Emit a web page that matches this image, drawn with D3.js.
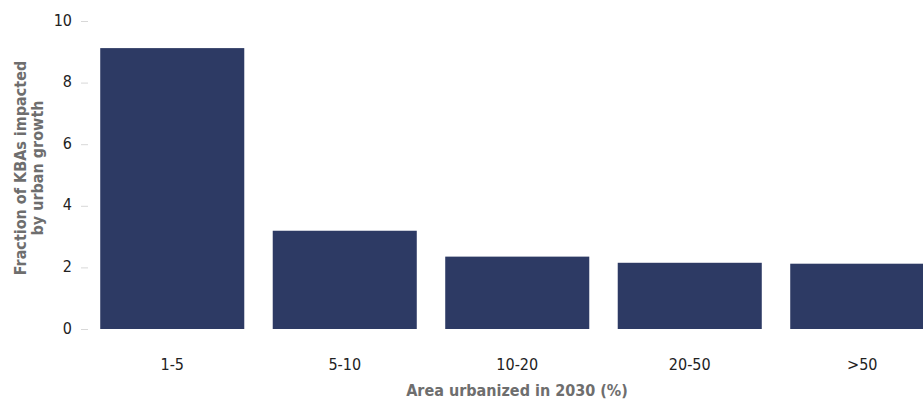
<!DOCTYPE html>
<html><head><meta charset="utf-8">
<script src="https://cdn.jsdelivr.net/npm/d3@7"></script>
<style>
body{margin:0;background:#fff;}
svg{display:block;}
text{font-family:"Liberation Sans Narrow","DejaVu Sans Condensed","Roboto",sans-serif;}
</style></head><body>
<script>
const categories = ["1-5","5-10","10-20","20-50",">50"];
const values = [9.12, 3.19, 2.35, 2.15, 2.12];
const yTicks = [0,2,4,6,8,10];
const xTitle = "Area urbanized in 2030 (%)";
const yTitleLines = ["Fraction of KBAs impacted","by urban growth"];

const W = 923, H = 400;
const svg = d3.select("body").append("svg").attr("width",W).attr("height",H);

const x = d3.scaleBand().domain(categories).range([86, 948.5]).paddingInner(0.165).paddingOuter(0.0825);
const y = d3.scaleLinear().domain([0,10]).range([329, 21]);

svg.selectAll("rect.bar").data(values).enter().append("rect")
  .attr("class","bar")
  .attr("x",(d,i)=>x(categories[i]))
  .attr("width",x.bandwidth())
  .attr("y",d=>y(d))
  .attr("height",d=>y(0)-y(d))
  .attr("fill","#2d3a64");

// y axis
const yAxis = svg.append("g").attr("transform","translate(88,0)")
  .call(d3.axisLeft(y).tickValues(yTicks).tickSize(7).tickPadding(9));
yAxis.select(".domain").remove();
yAxis.selectAll(".tick line").attr("stroke","#d8d8d8");
yAxis.selectAll(".tick text").attr("fill","#222").style("font-size","16px").attr("dy","0.25em");

// x axis
const xAxis = svg.append("g").attr("transform","translate(0,359)")
  .call(d3.axisBottom(x).tickSize(0).tickPadding(0));
xAxis.select(".domain").remove();
xAxis.selectAll(".tick text").attr("fill","#222").style("font-size","16px").attr("dy","0.71em");

svg.append("text").attr("x",517).attr("y",396).attr("text-anchor","middle")
  .attr("fill","#6e6e6e").style("font-size","16px").style("font-weight","bold").text(xTitle);

const yt = svg.append("text").attr("transform","translate(26,168) rotate(-90)")
  .attr("text-anchor","middle").attr("fill","#6e6e6e").style("font-size","16px").style("font-weight","bold");
yTitleLines.forEach((t,i)=>yt.append("tspan").attr("x",0).attr("dy", i===0? "0" : "1.05em").text(t));
</script>
</body></html>
